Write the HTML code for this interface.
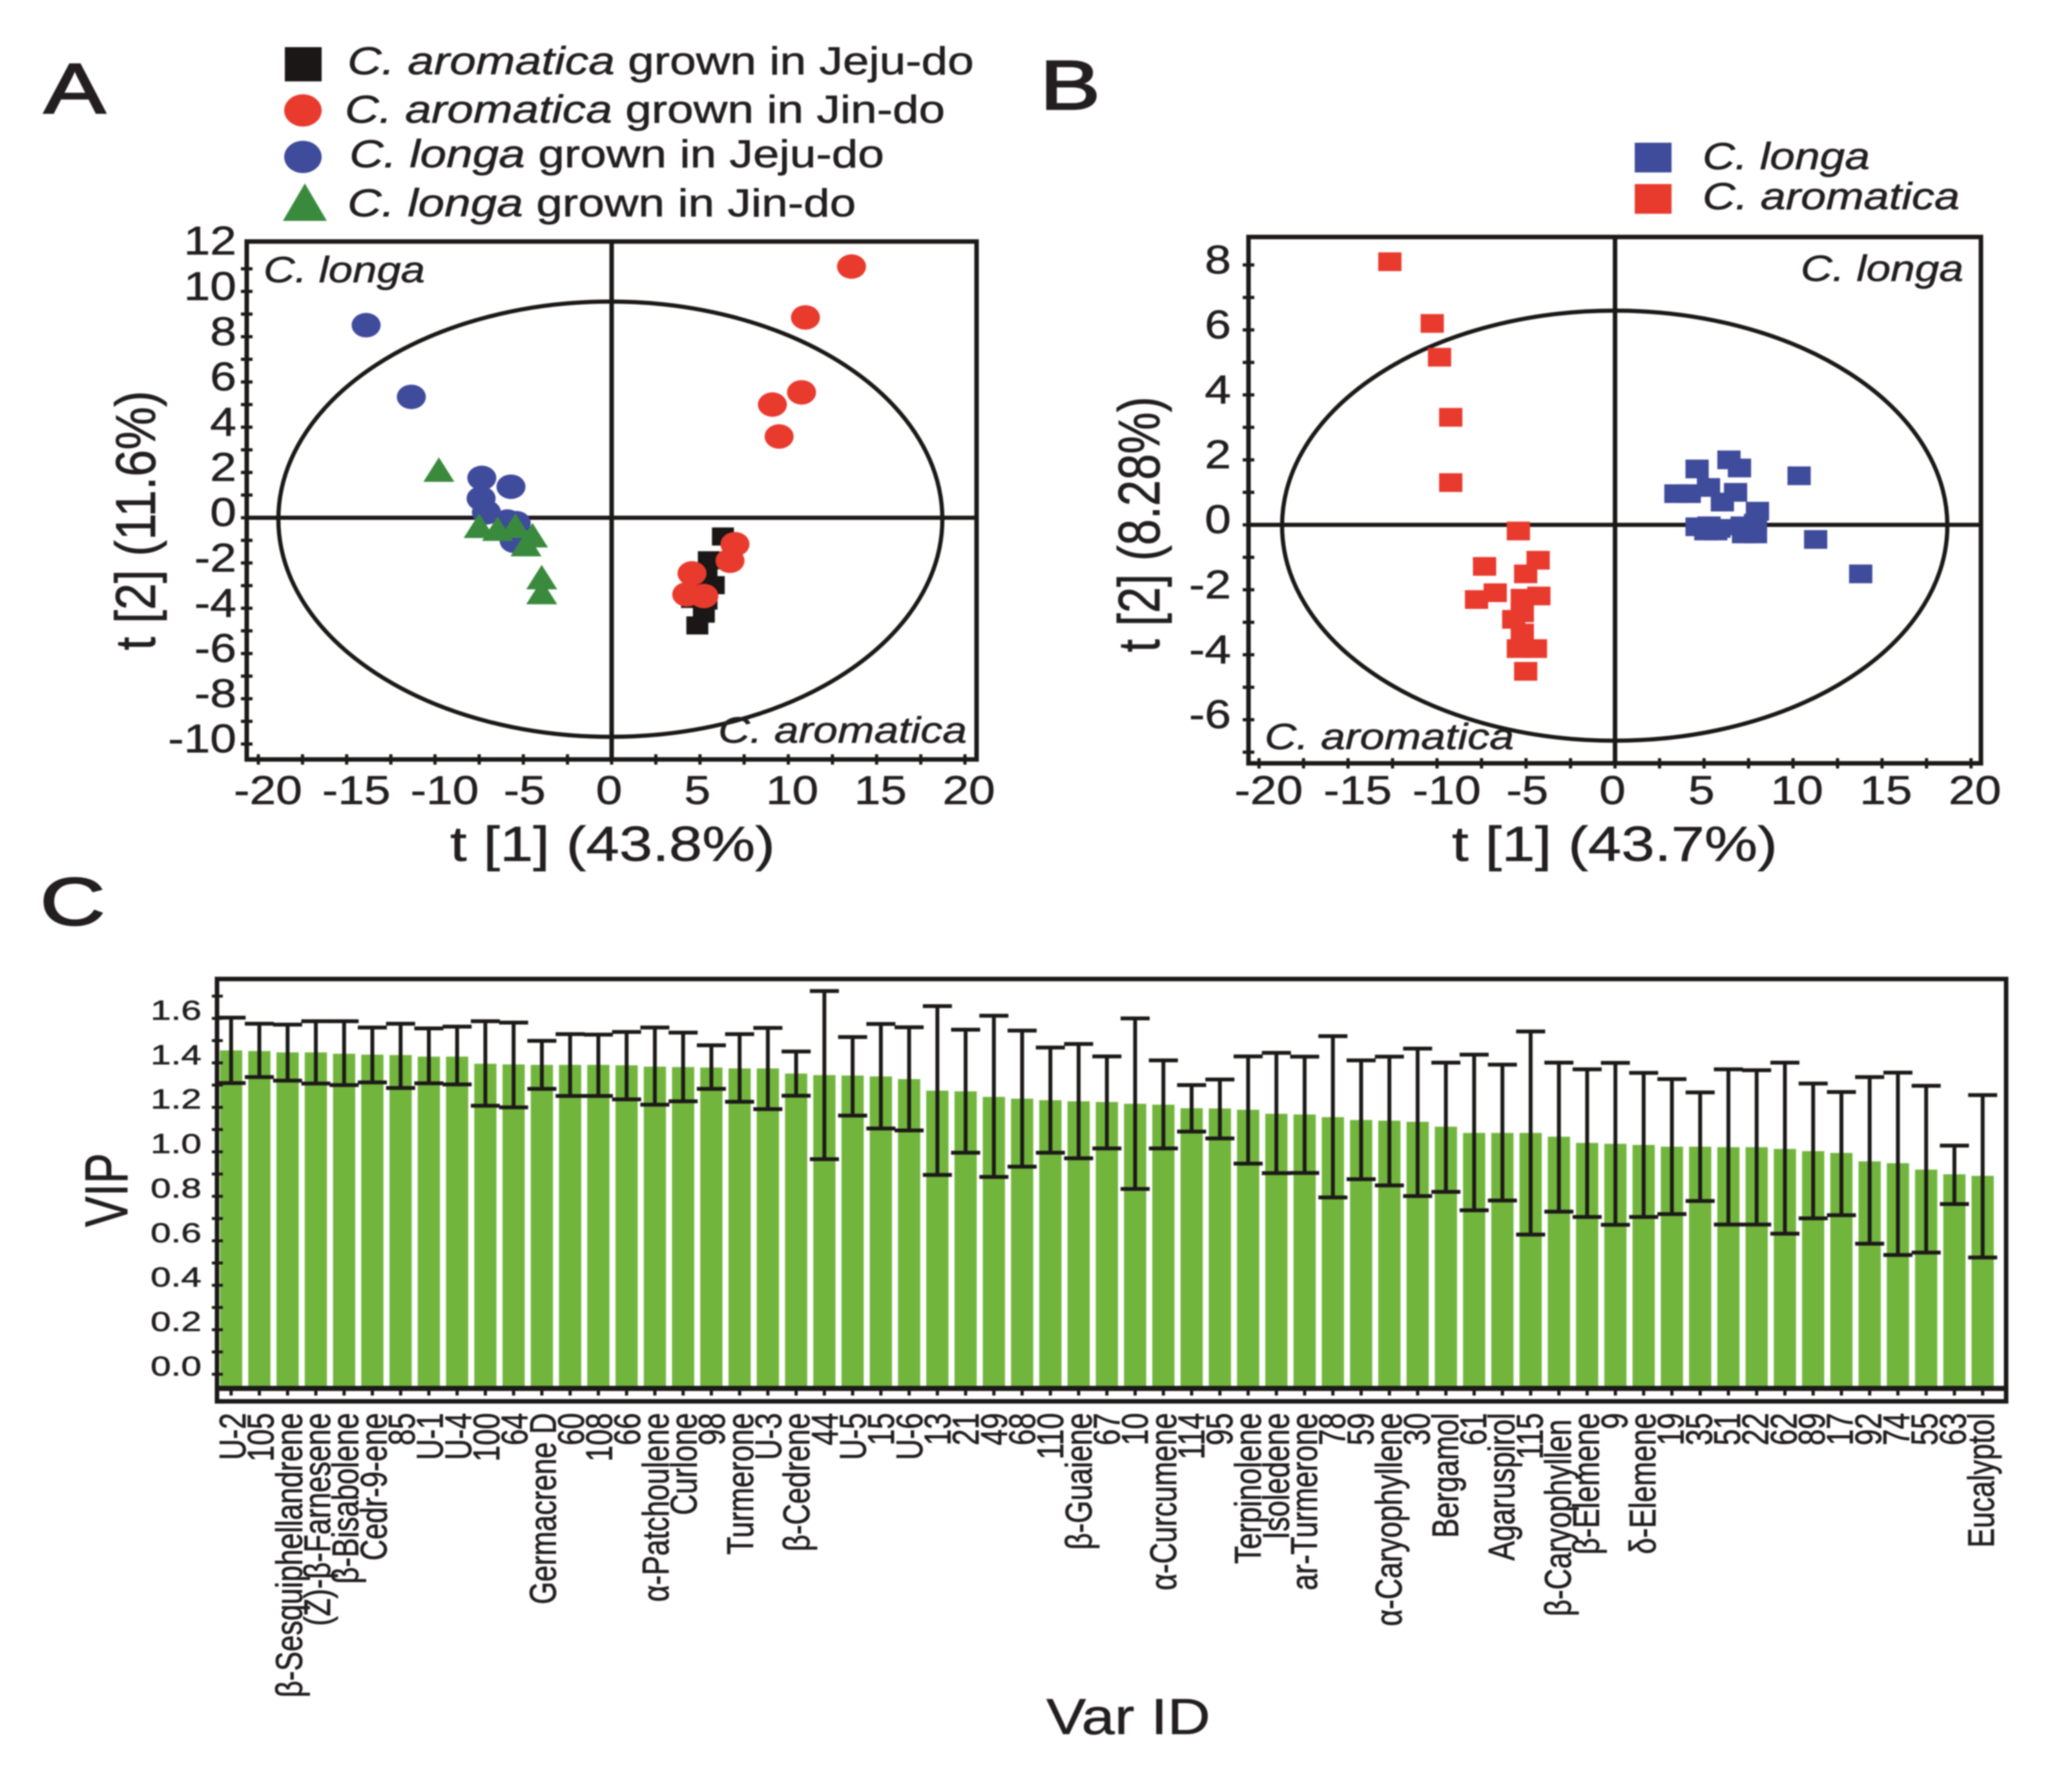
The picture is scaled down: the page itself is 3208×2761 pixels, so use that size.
<!DOCTYPE html>
<html lang="en">
<head>
<meta charset="utf-8">
<title>PCA score plots and VIP chart</title>
<style>
html,body{margin:0;padding:0;background:#fff;}
#figure{display:block;filter:blur(1.1px);font-family:"Liberation Sans",sans-serif;fill:#231f20;}
#figure text{stroke:#231f20;stroke-width:.7px;}
#figure .panel-letter{stroke-width:2.5px;}
.i{font-style:italic;}
</style>
</head>
<body>
<svg id="figure" xmlns="http://www.w3.org/2000/svg" width="3208" height="2761" viewBox="0 0 3208 2761">
<rect x="0" y="0" width="3208" height="2761" fill="#fff"/>

<text class="panel-letter" transform="translate(68,175) scale(1.3,1)" font-size="110">A</text>
<text class="panel-letter" transform="translate(1610,169) scale(1.3,1)" font-size="108">B</text>
<text class="panel-letter" transform="translate(62,1432) scale(1.34,1)" font-size="104">C</text>

<g>
<rect x="441" y="73" width="57" height="53" fill="#1a1716"/>
<ellipse cx="469" cy="171" rx="29" ry="25" fill="#e93a2e"/>
<ellipse cx="469" cy="243" rx="29" ry="25" fill="#3f4b9b"/>
<polygon points="438,342 506,342 472,284" fill="#3a8a3e"/>
<text transform="translate(538,115) scale(1.217,1)" font-size="60"><tspan class="i">C. aromatica</tspan> grown in Jeju-do</text>
<text transform="translate(534,190) scale(1.217,1)" font-size="60"><tspan class="i">C. aromatica</tspan> grown in Jin-do</text>
<text transform="translate(541,259) scale(1.217,1)" font-size="60"><tspan class="i">C. longa</tspan> grown in Jeju-do</text>
<text transform="translate(538,335) scale(1.217,1)" font-size="60"><tspan class="i">C. longa</tspan> grown in Jin-do</text>
</g>

<g>
<rect x="2531" y="221" width="57" height="46" fill="#3f4b9b"/>
<rect x="2531" y="285" width="57" height="46" fill="#e93a2e"/>
<text class="i" x="2636" y="262" font-size="58" textLength="259" lengthAdjust="spacingAndGlyphs">C. longa</text>
<text class="i" x="2636" y="324" font-size="58" textLength="398" lengthAdjust="spacingAndGlyphs">C. aromatica</text>
</g>

<g id="panel-a"></g>
<g id="panel-b"></g>
<g id="panel-c"></g>

<text class="i" x="408" y="437" font-size="57" textLength="250" lengthAdjust="spacingAndGlyphs">C. longa</text>
<text class="i" x="1112" y="1150" font-size="57" textLength="385" lengthAdjust="spacingAndGlyphs">C. aromatica</text>
<text class="i" x="2788" y="435" font-size="57" textLength="252" lengthAdjust="spacingAndGlyphs">C. longa</text>
<text class="i" x="1958" y="1160" font-size="57" textLength="386" lengthAdjust="spacingAndGlyphs">C. aromatica</text>

<text x="697" y="1333" font-size="76" textLength="503" lengthAdjust="spacingAndGlyphs">t [1] (43.8%)</text>
<text x="2248" y="1333" font-size="76" textLength="504" lengthAdjust="spacingAndGlyphs">t [1] (43.7%)</text>
<text transform="translate(240,1007) rotate(-90) scale(1,1.2)" font-size="73" textLength="402" lengthAdjust="spacingAndGlyphs">t [2] (11.6%)</text>
<text transform="translate(1795,1010) rotate(-90) scale(1,1.25)" font-size="73" textLength="396" lengthAdjust="spacingAndGlyphs">t [2] (8.28%)</text>
<text transform="translate(197,1900) rotate(-90) scale(1,1.32)" font-size="71">VIP</text>
<text x="1620" y="2685" font-size="78" textLength="254" lengthAdjust="spacingAndGlyphs">Var ID</text>
</svg>

<script>
/* Panel A data */
const aAromaticaJejuX = [6.3, 5.5, 5.37, 5.78, 4.93, 4.55, 5.37, 5.22, 4.85];
const aAromaticaJejuY = [-0.83, -1.88, -2.37, -2.98, -2.73, -3.59, -3.66, -4.24, -4.76];
const aAromaticaJinX = [13.58, 10.97, 10.75, 9.1, 9.48, 6.98, 6.7, 4.55, 4.25, 5.22];
const aAromaticaJinY = [11.1, 8.85, 5.54, 5.0, 3.59, -1.17, -1.9, -2.46, -3.39, -3.46];
const aLongaJejuX = [-13.9, -11.34, -7.35, -5.7, -7.39, -7.09, -5.4, -5.9, -5.52];
const aLongaJejuY = [8.51, 5.34, 1.76, 1.37, 0.85, 0.24, -0.24, -0.17, -1.02];
const aLongaJinX = [-9.78, -7.5, -6.46, -5.45, -4.48, -4.85, -3.96, -3.96];
const aLongaJinY = [2.07, -0.41, -0.54, -0.41, -0.83, -1.22, -2.68, -3.34];
const aYTickLabels = [12, 10, 8, 6, 4, 2, 0, -2, -4, -6, -8, -10];
const xTickLabels = [-20, -15, -10, -5, 0, 5, 10, 15, 20];

/* Panel B data */
const bAromaticaX = [-12.65, -10.27, -9.86, -9.23, -9.23, -5.43, -4.32, -7.33, -5.02, -6.73, -7.78, -4.28, -5.21, -5.21, -5.69, -5.21, -5.43, -4.47, -5.02];
const bAromaticaY = [8.1, 6.2, 5.16, 3.31, 1.3, -0.19, -1.09, -1.28, -1.51, -2.09, -2.3, -2.19, -2.26, -2.71, -2.91, -3.33, -3.81, -3.81, -4.51];
const bLongaX = [10.34, 13.8, 11.27, 6.4, 6.99, 4.61, 5.25, 6.77, 6.03, 3.42, 4.17, 8.0, 4.61, 5.1, 5.84, 5.28, 5.66, 7.22, 7.89, 7.14, 7.89];
const bLongaY = [1.51, -1.51, -0.45, 2.0, 1.75, 1.72, 1.15, 1.0, 0.7, 0.96, 0.96, 0.42, -0.06, -0.19, -0.11, -0.03, -0.19, -0.28, -0.28, -0.03, 0.05];
const bYTickLabels = [8, 6, 4, 2, 0, -2, -4, -6];

/* Panel C data */
const vipCategories = ["U-2","105","β-Sesquiphellandrene","(Z)-β-Farnesene","β-Bisabolene","Cedr-9-ene","85","U-1","U-4","100","64","Germacrene D","60","108","66","α-Patchoulene","Curlone","98","Turmerone","U-3","β-Cedrene","44","U-5","15","U-6","13","21","49","68","110","β-Guaiene","67","10","α-Curcumene","114","95","Terpinolene","Isoledene","ar-Turmerone","78","59","α-Caryophyllene","30","Bergamol","61","Agaruspirol","115","β-Caryophyllen","β-Elemene","9","δ-Elemene","19","35","51","22","62","89","17","92","74","55","63","Eucalyptol"];
const vipValues = [1.456,1.453,1.447,1.447,1.441,1.437,1.435,1.428,1.428,1.396,1.393,1.391,1.391,1.391,1.389,1.383,1.381,1.379,1.375,1.375,1.352,1.345,1.343,1.339,1.327,1.275,1.272,1.247,1.239,1.232,1.227,1.224,1.216,1.212,1.196,1.195,1.189,1.171,1.168,1.156,1.143,1.14,1.135,1.113,1.085,1.085,1.085,1.068,1.04,1.036,1.031,1.023,1.023,1.021,1.021,1.013,1.003,0.995,0.957,0.949,0.92,0.899,0.892];
const vipUpper = [1.603,1.576,1.572,1.587,1.587,1.559,1.576,1.555,1.563,1.587,1.581,1.499,1.529,1.527,1.539,1.559,1.536,1.479,1.529,1.557,1.451,1.723,1.516,1.575,1.56,1.655,1.549,1.612,1.545,1.469,1.485,1.429,1.6,1.411,1.3,1.325,1.429,1.445,1.428,1.52,1.411,1.428,1.464,1.401,1.437,1.392,1.541,1.401,1.371,1.4,1.355,1.327,1.267,1.371,1.367,1.401,1.307,1.269,1.336,1.356,1.297,1.028,1.255];
const vipLower = [1.309,1.336,1.32,1.307,1.3,1.312,1.287,1.308,1.303,1.207,1.2,1.283,1.251,1.251,1.236,1.212,1.227,1.283,1.225,1.192,1.252,0.967,1.163,1.105,1.096,0.896,0.996,0.887,0.933,0.996,0.971,1.015,0.833,1.015,1.091,1.06,0.947,0.904,0.905,0.795,0.877,0.849,0.801,0.82,0.737,0.781,0.628,0.731,0.707,0.672,0.707,0.72,0.779,0.673,0.673,0.632,0.701,0.715,0.587,0.536,0.547,0.765,0.525];
const vipTickLabels = ["0.0","0.2","0.4","0.6","0.8","1.0","1.2","1.4","1.6"];

const SVGNS = 'http://www.w3.org/2000/svg';
const INK = '#1c1a18';

function make(parent, tag, attrs, text) {
  const node = document.createElementNS(SVGNS, tag);
  for (const k in attrs) node.setAttribute(k, attrs[k]);
  if (text !== undefined) node.textContent = text;
  parent.appendChild(node);
  return node;
}

/* Axis functions */
const ax = v => 947 + 27.35 * v;
const ay = v => 801.7 - 35.04 * v;
const bx = v => 2500.5 + 27.56 * v;
const by = v => 812.7 - 50.3 * v;
const cx = i => 357.8 + 43.74 * i;
const cy = v => 2128 - 344.4 * v;
const labelX = i => 380 + 43.66 * i;

function xLabelOffset(v) {
  if (v < -5) return 15;
  if (v === -5) return 2;
  if (v <= 5) return -4;
  return 6;
}

function drawSquare(group, px, py, w, h, fill, name) {
  const el = make(group, 'rect', {x: px - w / 2, y: py - h / 2, width: w, height: h, fill: fill});
  
  
}
function drawCircle(group, px, py, fill, name) {
  const el = make(group, 'ellipse', {cx: px, cy: py, rx: 22.5, ry: 19, fill: fill});
  
  
}
function drawTriangle(group, px, py, fill, name) {
  const pts = (px - 24) + ',' + (py + 17) + ' ' + (px + 24) + ',' + (py + 17) + ' ' + px + ',' + (py - 21);
  const el = make(group, 'polygon', {points: pts, fill: fill});
  
  
}

function drawScoreFrame(group, f, xf, yf, yTicksFrom, yTicksTo, yLabels, yLabelRight) {
  const frame = make(group, 'rect', {x: f.l, y: f.t, width: f.r - f.l, height: f.b - f.t, fill: 'none', stroke: INK, 'stroke-width': 7});
  
  

  const ell = make(group, 'ellipse', {cx: f.ecx, cy: f.ecy, rx: f.erx, ry: f.ery, fill: 'none', stroke: INK, 'stroke-width': 6.5});
  
  

  const v0 = make(group, 'line', {x1: xf(0), x2: xf(0), y1: f.t, y2: f.b, stroke: INK, 'stroke-width': 7});
  
  

  const h0 = make(group, 'line', {x1: f.l, x2: f.r, y1: yf(0), y2: yf(0), stroke: INK, 'stroke-width': 6.5});
  
  

  for (let t = -20; t <= 20; t += 2.5) {
    const tick = make(group, 'line', {x1: xf(t), x2: xf(t), y1: f.b + 8, y2: f.b - 8, stroke: INK, 'stroke-width': 5});
    
    
  }
  for (let t = yTicksFrom; t <= yTicksTo; t += 1) {
    const tick = make(group, 'line', {x1: f.l - 9, x2: f.l + 9, y1: yf(t), y2: yf(t), stroke: INK, 'stroke-width': 5});
    
    
  }
  xTickLabels.forEach(v => {
    const lbl = make(group, 'text', {transform: 'translate(' + (xf(v) + xLabelOffset(v)) + ',1245) scale(1.18,1)', 'font-size': 62, 'text-anchor': 'middle'}, String(v));
    
    
  });
  yLabels.forEach(v => {
    const lbl = make(group, 'text', {transform: 'translate(' + yLabelRight + ',' + (yf(v) + 13) + ') scale(1.18,1)', 'font-size': 62, 'text-anchor': 'end'}, String(v));
    
    
  });
}

/* Panel A */
const groupA = document.getElementById('panel-a');
drawScoreFrame(groupA, {l: 382, r: 1512, t: 374, b: 1176, ecx: 945, ecy: 804, erx: 514, ery: 337}, ax, ay, -10, 11, aYTickLabels, 366);
aAromaticaJejuX.forEach((v, i) => drawSquare(groupA, ax(v), ay(aAromaticaJejuY[i]), 34, 28, '#1a1716', 'point-aromatica-jeju'));
aAromaticaJinX.forEach((v, i) => drawCircle(groupA, ax(v), ay(aAromaticaJinY[i]), '#e93a2e', 'point-aromatica-jin'));
aLongaJejuX.forEach((v, i) => drawCircle(groupA, ax(v), ay(aLongaJejuY[i]), '#3f4b9b', 'point-longa-jeju'));
aLongaJinX.forEach((v, i) => drawTriangle(groupA, ax(v), ay(aLongaJinY[i]), '#3a8a3e', 'point-longa-jin'));

/* Panel B */
const groupB = document.getElementById('panel-b');
drawScoreFrame(groupB, {l: 1933, r: 3067, t: 367, b: 1182, ecx: 2500, ecy: 814, erx: 515, ery: 333}, bx, by, -7, 8, bYTickLabels, 1906);
bLongaX.forEach((v, i) => drawSquare(groupB, bx(v), by(bLongaY[i]), 36, 29, '#3f4b9b', 'point-longa'));
bAromaticaX.forEach((v, i) => drawSquare(groupB, bx(v), by(bAromaticaY[i]), 36, 29, '#e93a2e', 'point-aromatica'));

/* Panel C */
const groupC = document.getElementById('panel-c');
vipValues.forEach((v, i) => {
  const bar = make(groupC, 'rect', {x: cx(i) - 17.2, y: cy(v), width: 34.4, height: 2150 - cy(v), fill: '#72b53d'});
  
  
});
vipValues.forEach((v, i) => {
  const whisker = make(groupC, 'line', {x1: cx(i), x2: cx(i), y1: cy(vipUpper[i]), y2: cy(vipLower[i]), stroke: INK, 'stroke-width': 6});
  
  

  const capTop = make(groupC, 'line', {x1: cx(i) - 22.5, x2: cx(i) + 22.5, y1: cy(vipUpper[i]), y2: cy(vipUpper[i]), stroke: INK, 'stroke-width': 6});
  
  

  const capBottom = make(groupC, 'line', {x1: cx(i) - 22.5, x2: cx(i) + 22.5, y1: cy(vipLower[i]), y2: cy(vipLower[i]), stroke: INK, 'stroke-width': 6});
  
  

  const tick = make(groupC, 'line', {x1: cx(i), x2: cx(i), y1: 2150, y2: 2161, stroke: INK, 'stroke-width': 5});
  
  

  const topY = vipCategories[i] === 'β-Caryophyllen' ? 2198 : 2188;
  const lbl = make(groupC, 'text', {transform: 'translate(' + labelX(i) + ',' + topY + ') rotate(-90) scale(1,1.27)', 'font-size': 45.2, 'text-anchor': 'end'}, vipCategories[i]);
  
  
});

const cFrame = make(groupC, 'rect', {x: 336, y: 1516, width: 2770, height: 654, fill: 'none', stroke: INK, 'stroke-width': 7});



const cAxis = make(groupC, 'line', {x1: 336, x2: 3108, y1: 2150, y2: 2150, stroke: INK, 'stroke-width': 8});



for (let t = 0; t <= 17; t += 1) {
  const tick = make(groupC, 'line', {x1: 328, x2: 345, y1: cy(t / 10), y2: cy(t / 10), stroke: INK, 'stroke-width': 4.5});
  
  
}
vipTickLabels.forEach(s => {
  const lbl = make(groupC, 'text', {transform: 'translate(312,' + (cy(parseFloat(s)) + 2) + ') scale(1.32,1)', 'font-size': 43, 'text-anchor': 'end'}, s);
  
  
});
</script>
</body>
</html>
